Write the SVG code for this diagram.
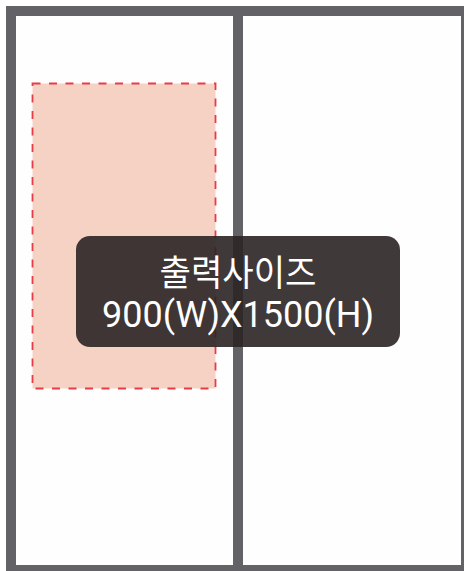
<svg xmlns="http://www.w3.org/2000/svg" width="464" height="571" viewBox="0 0 464 571">
<style>
.wall{fill:#636367}
.panel{fill:#fefefe}
.area{fill:#f6d2c5;stroke:#e63c46;stroke-width:1.8;stroke-dasharray:8 8.5}
.label{fill:#2a2423;fill-opacity:0.9}
.t{fill:#ffffff;font-family:Roboto,"Noto Sans CJK KR",sans-serif;font-size:36px;text-anchor:middle}
</style>
<g id="frame">
<rect class="wall" x="6" y="6" width="458" height="565"/>
<rect class="panel" x="16" y="16" width="217" height="549"/>
<rect class="panel" x="243" y="16" width="218" height="549"/>
</g>
<g id="print-area">
<rect class="area" x="32.5" y="83.5" width="183" height="305"/>
</g>
<g id="size-label">
<rect class="label" x="76" y="236" width="324" height="111" rx="14"/>
<text class="t" x="238" y="286" textLength="157" lengthAdjust="spacingAndGlyphs">출력사이즈</text>
<text class="t" x="238" y="327">900(W)X1500(H)</text>
</g>
</svg>
